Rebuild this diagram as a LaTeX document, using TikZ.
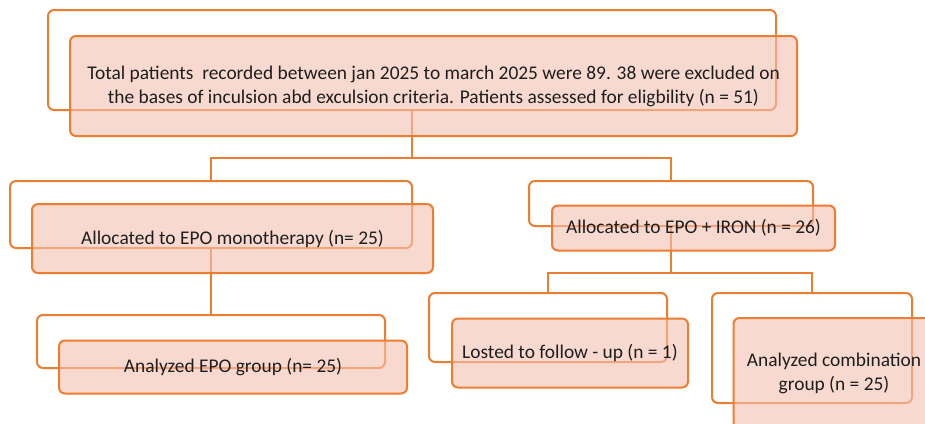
\documentclass[tikz,border=0pt]{standalone}
\usepackage{fontspec}
\setmainfont{Carlito}
\definecolor{boxline}{RGB}{237,125,49}
\definecolor{boxfill}{RGB}{243,192,177}
\definecolor{boxtext}{RGB}{30,30,30}
\begin{document}
\begin{tikzpicture}[x=1pt,y=-1pt,
  backbox/.style={draw=boxline,line width=2pt,rounded corners=6pt,fill=white,inner sep=0pt},
  frontbox/.style={draw=boxline,line width=2pt,rounded corners=6pt,fill=boxfill,fill opacity=0.6,
    draw opacity=1,text opacity=1,text=boxtext,inner sep=0pt,align=center,
    font=\fontsize{19.4}{24}\selectfont},
  link/.style={draw=boxline,line width=2pt}]
\useasboundingbox (0,0) rectangle (925,423);
\clip (0,0) rectangle (925,423);

% Back frames
\node[backbox,minimum width=728,minimum height=100] (totalB) at (412,60) {};
\node[backbox,minimum width=402,minimum height=67] (epoB) at (211,214.5) {};
\node[backbox,minimum width=284,minimum height=45] (ironB) at (671,203.5) {};
\node[backbox,minimum width=348,minimum height=53] (eporesB) at (211,341.5) {};
\node[backbox,minimum width=238,minimum height=69] (lostB) at (548,327.5) {};
\node[backbox,minimum width=200,minimum height=110] (combB) at (812,348) {};

% Connectors
\coordinate (split1) at (412,158);
\coordinate (split2) at (671,273);
\draw[link] (totalB.south) -- (split1) -| (epoB.north);
\draw[link] (split1) -| (ironB.north);
\draw[link] (epoB.south) -- (eporesB.north);
\draw[link] (ironB.south) -- (split2) -| (lostB.north);
\draw[link] (split2) -| (combB.north);

% Front boxes
\node[frontbox,minimum width=727,minimum height=100] (total) at (433.5,86)
  {Total patients \ recorded between jan 2025 to march 2025 were 89. 38 were excluded on\\
   the bases of inculsion abd exculsion criteria. Patients assessed for eligbility (n = 51)};
\node[frontbox,minimum width=401,minimum height=69] (epo) at (232.5,238.5)
  {Allocated to EPO monotherapy (n= 25)};
\node[frontbox,minimum width=283,minimum height=45] (iron) at (693.5,228)
  {Allocated to EPO + IRON (n = 26)};
\node[frontbox,minimum width=348,minimum height=53] (epores) at (233,367)
  {Analyzed EPO group (n= 25)};
\node[frontbox,minimum width=236,minimum height=69] (lost) at (570,353)
  {Losted to follow - up (n = 1)};
\node[frontbox,minimum width=201,minimum height=110] (comb) at (834,373)
  {Analyzed combination\\group (n = 25)};
\end{tikzpicture}
\end{document}
